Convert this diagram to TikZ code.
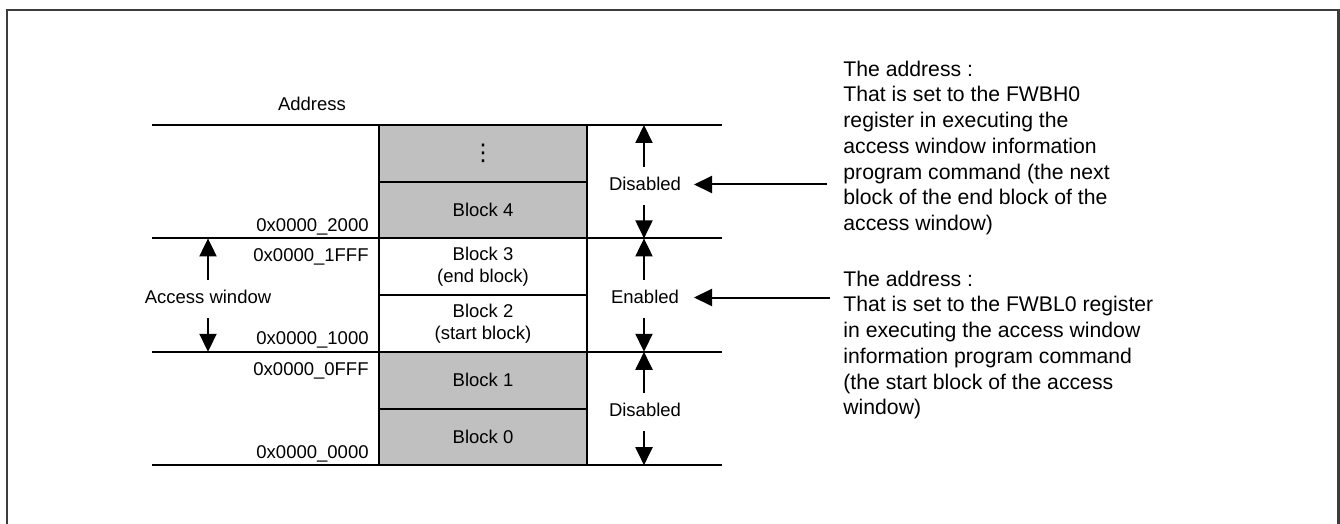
\documentclass[tikz,border=0pt]{standalone}
\usepackage{fontspec}
\setmainfont{Liberation Sans}
\newfontfamily\symfont{DejaVu Sans}
\usetikzlibrary{arrows.meta}
\definecolor{cellgray}{RGB}{192,192,192}
\definecolor{framegray}{RGB}{60,60,60}
\begin{document}
\begin{tikzpicture}[x=0.5pt,y=-0.5pt,
  lbl/.style={font=\fontsize{9.25pt}{11.2pt}\selectfont, inner sep=0pt, align=center},
  addr/.style={lbl, anchor=base east},
  note/.style={font=\fontsize{10.6pt}{12.85pt}\selectfont, inner sep=0pt, align=left, anchor=north west},
  cell/.style={draw, line width=1pt, minimum width=104pt, minimum height=28.35pt, inner sep=0pt, align=center,
    font=\fontsize{9.25pt}{11.2pt}\selectfont, fill=white},
  graycell/.style={cell, fill=cellgray},
  bound/.style={line width=1pt},
  arr/.style={line width=1pt, -{Triangle[length=9pt,width=8.5pt]}},
  ]
\useasboundingbox (0,0) rectangle (1340,524);
% frame
\draw[line width=1.2pt, framegray] (7,524) -- (7,10) -- (1338.5,10) -- (1338.5,524);

% header
\node[lbl] (address) at (312,104) {Address};

% memory cells
\node[graycell] (c5) at (483,153.35) {{\symfont\fontsize{11.5pt}{12pt}\selectfont ⋮}};
\node[graycell] (c4) at (483,210.05) {Block 4};
\node[cell] (c3) at (483,266.75) {Block 3\\(end block)};
\node[cell] (c2) at (483,323.45) {Block 2\\(start block)};
\node[graycell] (c1) at (483,380.15) {Block 1};
\node[graycell] (c0) at (483,436.85) {Block 0};

% boundary lines
\draw[bound] (152,125) -- (722,125);
\draw[bound] (152,238.4) -- (722,238.4);
\draw[bound] (152,351.8) -- (722,351.8);
\draw[bound] (152,465.2) -- (722,465.2);

% addresses
\node[addr] (a2000) at (369,231.8) {0x0000\_2000};
\node[addr] (a1fff) at (369,261.6) {0x0000\_1FFF};
\node[addr] (a1000) at (369,344.8) {0x0000\_1000};
\node[addr] (a0fff) at (369,375.0) {0x0000\_0FFF};
\node[addr] (a0000) at (369,458.2) {0x0000\_0000};

% access window
\node[lbl] (aw) at (208,297) {Access window};
\coordinate (awtop) at (208,238.4);
\coordinate (awbot) at (208,351.8);
\coordinate (awu) at (208,279.5);
\coordinate (awd) at (208,318);
\draw[arr] (awu) -- (awtop);
\draw[arr] (awd) -- (awbot);

% right side status
\node[lbl] (dis1) at (645,184) {Disabled};
\node[lbl] (ena) at (645,297) {Enabled};
\node[lbl] (dis0) at (645,410.3) {Disabled};

\coordinate (r0) at (644,125);
\coordinate (r1) at (644,238.4);
\coordinate (r2) at (644,351.8);
\coordinate (r3) at (644,465.2);
\coordinate (d1u) at (644,167);
\coordinate (d1d) at (644,205);
\coordinate (eu) at (644,280);
\coordinate (ed) at (644,318);
\coordinate (d0u) at (644,393.3);
\coordinate (d0d) at (644,431.3);
\draw[arr] (d1u) -- (r0);
\draw[arr] (d1d) -- (r1);
\draw[arr] (eu) -- (r1);
\draw[arr] (ed) -- (r2);
\draw[arr] (d0u) -- (r2);
\draw[arr] (d0d) -- (r3);

% notes
\node[note] (n1) at (843,60.5) {The address :\\That is set to the FWBH0\\register in executing the\\access window information\\program command (the next\\block of the end block of the\\access window)};
\node[note] (n2) at (843,270.5) {The address :\\That is set to the FWBL0 register\\in executing the access window\\information program command\\(the start block of the access\\window)};

\coordinate (t1) at (827,184.5);
\coordinate (h1) at (694,184.5);
\coordinate (t2) at (830,297.5);
\coordinate (h2) at (694,297.5);
\draw[arr] (t1) -- (h1);
\draw[arr] (t2) -- (h2);
\end{tikzpicture}
\end{document}
